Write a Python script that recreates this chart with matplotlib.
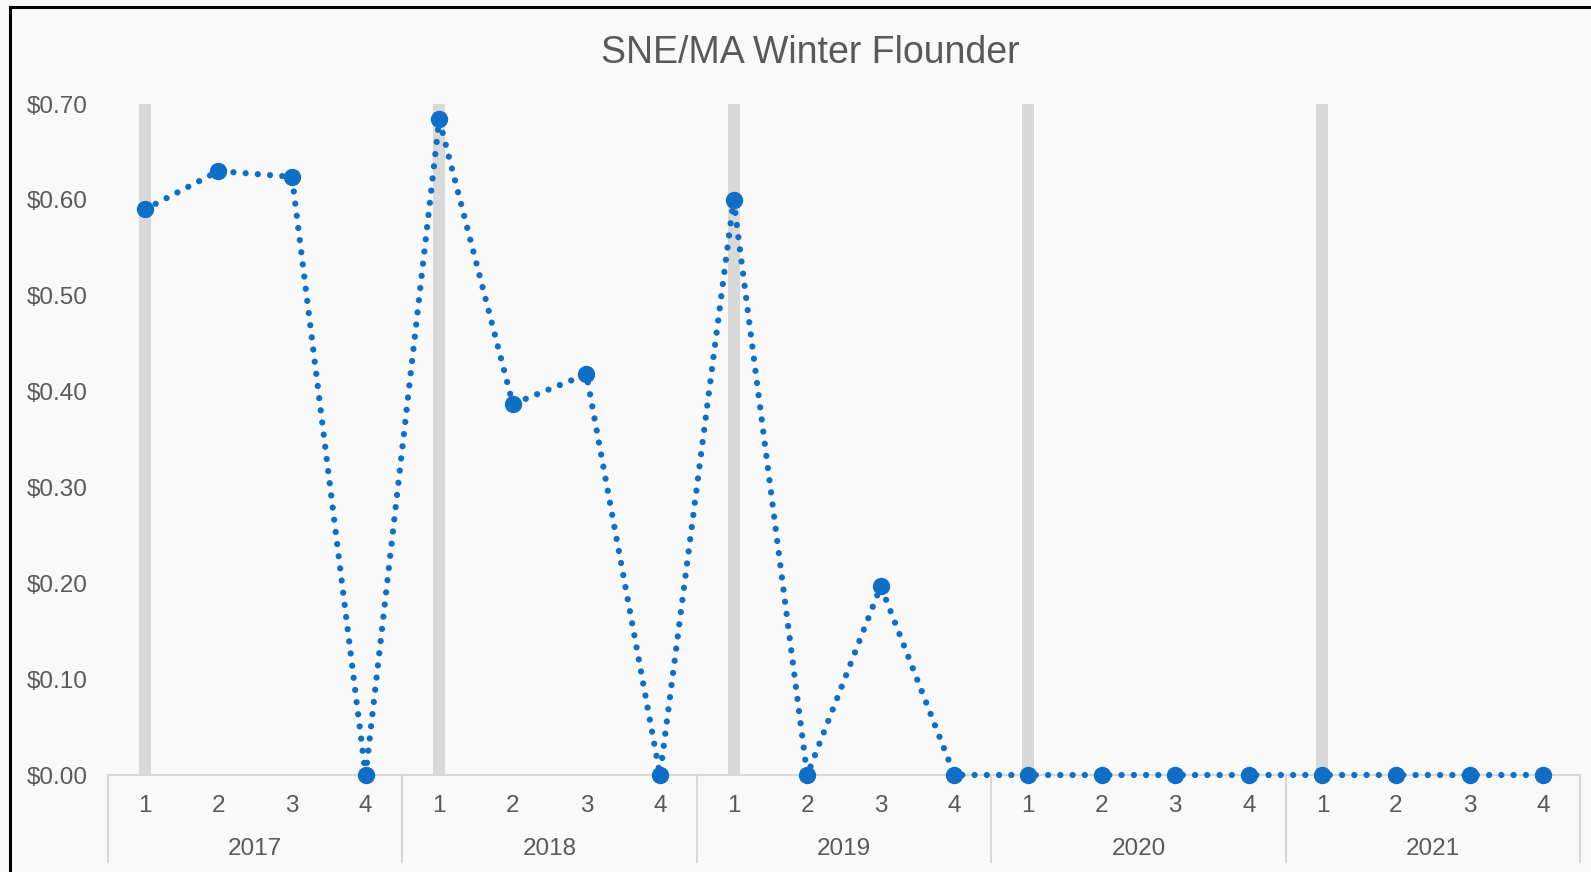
import matplotlib
matplotlib.use("Agg")
import matplotlib.pyplot as plt
from matplotlib.lines import Line2D
import matplotlib.transforms as mtransforms

years = ["2017", "2018", "2019", "2020", "2021"]
quarters = ["1", "2", "3", "4"]
price = [0.59, 0.63, 0.624, 0.0,
         0.684, 0.387, 0.418, 0.0,
         0.60, 0.0, 0.197, 0.0,
         0.0, 0.0, 0.0, 0.0,
         0.0, 0.0, 0.0, 0.0]
year_band = 0.70  # grey bar marking first quarter of each year
yticks = [0.0, 0.1, 0.2, 0.3, 0.4, 0.5, 0.6, 0.7]

plt.rcParams['font.family'] = ['Liberation Sans', 'DejaVu Sans']
txt = '#595959'
axis_grey = '#d9d9d9'
blue = '#0f6fc6'

fig = plt.figure(figsize=(15.91, 8.72), dpi=100, facecolor='#f9f9f9')
ax = fig.add_axes([108/1591, 1 - 775/872, (1580 - 108)/1591, (775 - 104)/872])
ax.set_facecolor('none')

n = len(years) * len(quarters)
x = list(range(n))
q1 = [i * len(quarters) for i in range(len(years))]

ax.bar(q1, [year_band] * len(q1), width=0.165, color=axis_grey, zorder=1)
ax.plot(x, price, color=blue, linewidth=4.5, linestyle=(0, (0.01, 1.95)),
        dash_capstyle='round', marker='o', markersize=11.5, zorder=3, clip_on=False)

ax.set_xlim(-0.5, n - 0.5)
ax.set_ylim(0, 0.70)
ax.set_yticks(yticks)
ax.set_yticklabels([f"${v:.2f}" for v in yticks])
ax.tick_params(axis='y', length=0, pad=14.5, labelsize=17.5, labelcolor=txt)
ax.set_xticks([])
for s in ax.spines.values():
    s.set_visible(False)

# multi-level category axis
tr = mtransforms.blended_transform_factory(ax.transData, ax.transAxes)
ax.plot([-0.5, n - 0.5], [0, 0], color=axis_grey, lw=1.5, transform=tr, clip_on=False, zorder=2)
bottom = (775 - 862) / 671
for b in range(len(years) + 1):
    xb = b * len(quarters) - 0.5
    ax.plot([xb, xb], [0, bottom], color=axis_grey, lw=1.5, transform=tr, clip_on=False)
for i in x:
    ax.text(i, -31/671, quarters[i % 4], transform=tr, ha='center', va='center',
            fontsize=17.5, color=txt)
for k, yr in enumerate(years):
    ax.text(k * 4 + 1.5, -74/671, yr, transform=tr, ha='center', va='center',
            fontsize=17.5, color=txt)

fig.text(810/1591, 1 - 53/872, "SNE/MA Winter Flounder", ha='center', va='center',
         fontsize=27, color=txt)

# black frame (left and top edges visible)
fig.add_artist(Line2D([10/1591, 10/1591], [0, 1 - 7.5/872], color='black', lw=2.2,
                      transform=fig.transFigure))
fig.add_artist(Line2D([10/1591, 1], [1 - 7.5/872, 1 - 7.5/872], color='black', lw=2.2,
                      transform=fig.transFigure))

fig.savefig("out.png", dpi=100, facecolor=fig.get_facecolor())
